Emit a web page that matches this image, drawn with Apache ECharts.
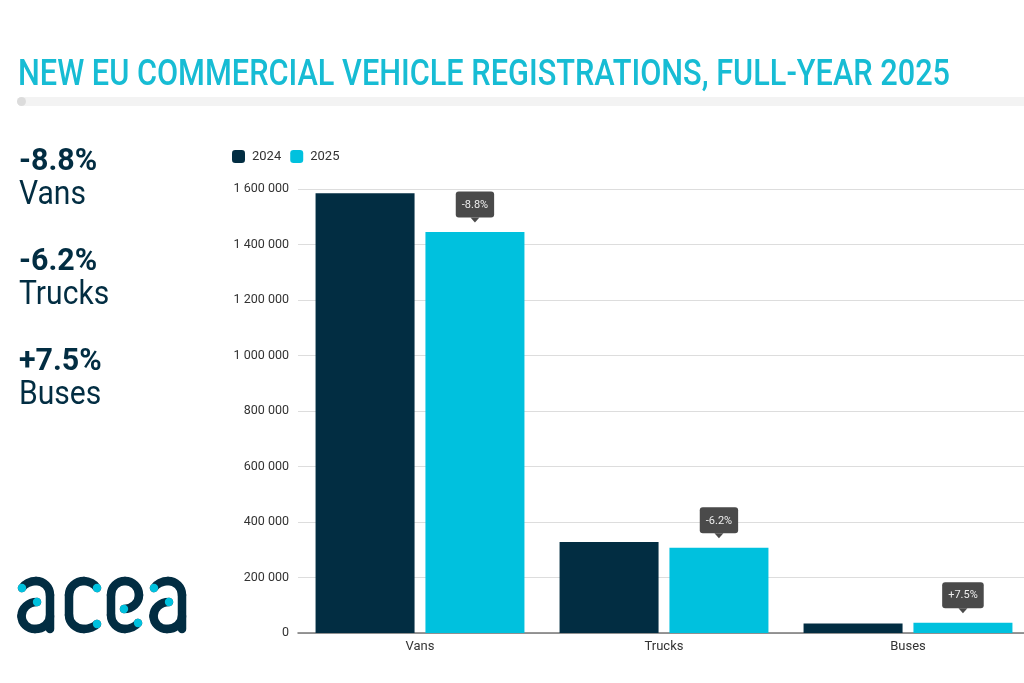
<!DOCTYPE html>
<html>
<head>
<meta charset="utf-8">
<title>New EU commercial vehicle registrations</title>
<script src="https://cdn.jsdelivr.net/npm/echarts@6/dist/echarts.min.js"></script>
<style>
  html, body { margin: 0; padding: 0; background: #fff; overflow: hidden; }
  /* o grafico passa um pouco da janela, como na imagem original */
  #grafico { width: 1030px; height: 683px; }
</style>
</head>
<body>
<div id="grafico"></div>
<script>
var categorias = ['Vans', 'Trucks', 'Buses'];
var valores2024 = [1585000, 328000, 34000];
var valores2025 = [1445000, 307000, 37000];
var variacoes = ['-8.8%', '-6.2%', '+7.5%'];
var titulo = 'NEW EU COMMERCIAL VEHICLE REGISTRATIONS, FULL-YEAR 2025';

var escuro = '#022d42';
var ciano = '#00c1de';
var fonte = '"Roboto", sans-serif';

function milhar(v) {
  return String(v).replace(/\B(?=(\d{3})+$)/g, ' ');
}

// resumo na esquerda
function resumo(i, y) {
  return [
    { type: 'text', x: 19, y: y + 2, scaleX: 0.98, style: { text: variacoes[i], fill: escuro, font: '700 31px ' + fonte } },
    { type: 'text', x: 19, y: y + 33, scaleX: 0.885, style: { text: categorias[i], fill: escuro, font: '400 34px ' + fonte } }
  ];
}

// logo: cada traco e uma lista de cantos [x1,y1,cx,cy,x2,y2]
function traco(curvas) {
  var k = 0.552;
  return curvas.map(function (c) {
    return {
      type: 'bezierCurve',
      shape: {
        x1: c[0], y1: c[1],
        cpx1: c[0] + k * (c[2] - c[0]), cpy1: c[1] + k * (c[3] - c[1]),
        cpx2: c[4] + k * (c[2] - c[4]), cpy2: c[5] + k * (c[3] - c[5]),
        x2: c[4], y2: c[5]
      },
      style: { fill: null, stroke: escuro, lineWidth: 8.5, lineCap: 'round' }
    };
  });
}
function ponto(x, y) {
  return { type: 'circle', shape: { cx: x, cy: y, r: 4.2 }, style: { fill: ciano } };
}
function letraA(o) {
  return traco([
    [22 + o, 588, 26 + o, 581, 36 + o, 581],
    [36 + o, 581, 50 + o, 581, 50 + o, 595],
    [50 + o, 595, 50 + o, 612, 50 + o, 629],
    [37 + o, 602, 21.5 + o, 602, 21.5 + o, 616],
    [21.5 + o, 616, 21.5 + o, 629, 35 + o, 629],
    [35 + o, 629, 50 + o, 629, 50 + o, 616]
  ]);
}
var logo = [].concat(
  letraA(0),
  traco([
    [97, 588, 93, 581, 84, 581],
    [84, 581, 69, 581, 69, 595],
    [69, 595, 69, 605, 69, 615],
    [69, 615, 69, 629, 84, 629],
    [84, 629, 93, 629, 97, 624]
  ]),
  traco([
    [138, 623, 134, 629, 125, 629],
    [125, 629, 111, 629, 111, 615],
    [111, 615, 111, 605, 111, 595],
    [111, 595, 111, 581, 125, 581],
    [125, 581, 139, 581, 139, 595],
    [139, 595, 139, 609, 124, 609]
  ]),
  letraA(132),
  [ponto(22, 588), ponto(37, 602), ponto(97, 588), ponto(97, 624),
   ponto(124, 609), ponto(138, 623), ponto(154, 588), ponto(169, 602)]
);

var chartDom = document.getElementById('grafico');
var myChart = echarts.init(chartDom);
var option;

option = {
  animation: false,
  backgroundColor: '#fff',
  textStyle: { fontFamily: fonte },
  color: [escuro, ciano],
  legend: {
    left: 227, top: 145,
    icon: 'roundRect', itemWidth: 13, itemHeight: 13, itemGap: 9,
    textStyle: { color: '#333', fontSize: 13, padding: [0, 0, 0, 2] }
  },
  grid: { left: 298, top: 189, right: 0, height: 444 },
  xAxis: {
    type: 'category',
    data: categorias,
    axisTick: { show: false },
    axisLine: { lineStyle: { color: '#777', width: 1.5 } },
    axisLabel: { color: '#333', fontSize: 13, margin: 7 }
  },
  yAxis: {
    type: 'value', min: 0, max: 1600000, interval: 200000,
    axisLabel: { color: '#333', fontSize: 12.5, margin: 9, formatter: milhar },
    splitLine: { lineStyle: { color: '#ddd' } }
  },
  series: [
    { name: '2024', type: 'bar', data: valores2024, barWidth: 99, barGap: '11%', itemStyle: { color: escuro } },
    {
      name: '2025', type: 'bar', data: valores2025, barWidth: 99, itemStyle: { color: ciano },
      markPoint: {
        symbol: 'triangle', symbolRotate: 180, symbolSize: [9, 5], symbolOffset: [0, -12],
        itemStyle: { color: '#4a4a4a' },
        label: {
          show: true, position: 'top', distance: 0, formatter: '{b}',
          color: '#eee', fontSize: 11, backgroundColor: '#4a4a4a', borderRadius: 3, padding: [8, 6, 7, 6]
        },
        data: valores2025.map(function (v, i) {
          return { name: variacoes[i], coord: [categorias[i], v] };
        })
      }
    }
  ],
  graphic: [
    { type: 'rect', shape: { x: 17, y: 97, width: 1020, height: 9, r: 4.5 }, style: { fill: '#f3f3f3' } },
    { type: 'circle', shape: { cx: 21.5, cy: 101.5, r: 4.5 }, style: { fill: '#dcdcdc' } },
    { type: 'text', x: 18, y: 57, scaleX: 0.83, style: { text: titulo, fill: '#17bcd4', font: '500 37px ' + fonte } }
  ].concat(resumo(0, 145), resumo(1, 245), resumo(2, 345), logo)
};

option && myChart.setOption(option);
</script>
</body>
</html>
